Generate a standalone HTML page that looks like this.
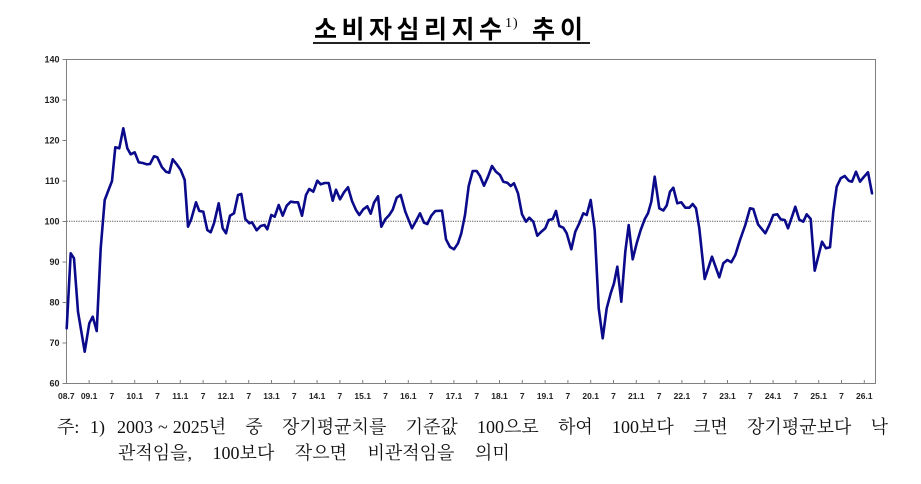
<!DOCTYPE html>
<html>
<head>
<meta charset="utf-8">
<style>
  html, body { margin:0; padding:0; background:#fff; }
  body { width:921px; height:484px; position:relative; overflow:hidden; }
  .t { position:absolute; font-family:"Liberation Sans","Noto Sans CJK KR",sans-serif; font-weight:700; color:#000; white-space:nowrap; }
  .title { left:314px; top:18px; font-size:25px; line-height:25px; letter-spacing:4.5px; }
  .sup { position:absolute; left:505px; top:17px; font-family:"Liberation Serif",serif; font-size:14px; line-height:14px; letter-spacing:1px; color:#000; }
  .title2 { left:532px; top:18px; font-size:25px; line-height:25px; letter-spacing:5px; }
  .uline { position:absolute; left:313px; top:42px; width:277px; height:2px; background:#222; }
  .note { position:absolute; font-family:"Liberation Serif","Noto Serif CJK SC","Noto Sans CJK KR",serif; font-size:18px; line-height:26px; color:#111; white-space:nowrap; }
  .n0 { left:57px; top:414px; }
  .n01 { left:90px; top:414px; }
  .n1 { left:117px; top:414px; width:771px; text-align:justify; text-align-last:justify; white-space:normal; }
  .n2 { left:118px; top:440px; word-spacing:16px; }
  .tl { margin:0 5px; }
</style>
</head>
<body>
<div class="t title">소비자심리지수</div>
<div class="sup">1)</div>
<div class="t title2">추이</div>
<div class="uline"></div>

<svg width="921" height="484" style="position:absolute;left:0;top:0" xmlns="http://www.w3.org/2000/svg">
  <g stroke="#808080" stroke-width="1" fill="none">
    <rect x="66.5" y="59.5" width="809" height="324"/>
    <line x1="62.5" y1="59.5" x2="66.5" y2="59.5"/>
    <line x1="62.5" y1="100" x2="66.5" y2="100"/>
    <line x1="62.5" y1="140.5" x2="66.5" y2="140.5"/>
    <line x1="62.5" y1="181" x2="66.5" y2="181"/>
    <line x1="62.5" y1="221.5" x2="66.5" y2="221.5"/>
    <line x1="62.5" y1="262" x2="66.5" y2="262"/>
    <line x1="62.5" y1="302.5" x2="66.5" y2="302.5"/>
    <line x1="62.5" y1="343" x2="66.5" y2="343"/>
    <line x1="62.5" y1="383.5" x2="66.5" y2="383.5"/>
  </g>
  <line x1="66.5" y1="221.3" x2="871" y2="221.3" stroke="#555" stroke-width="1" stroke-dasharray="1.2 1.2"/>
  <polyline fill="none" stroke="#0a0a8a" stroke-width="2.6" stroke-linejoin="round" stroke-linecap="round" points="
66.7,328.3 70.7,253.3 74,258.3 78,311.7 84.7,351.7 89.3,323.3 92.7,316.7 96.7,331 100.7,248.3 104.7,200 112,181 115.3,147.3 119.3,148.3 123.3,128.3 127.3,148.3 130.7,154.3 134.7,152.3 138.7,162.3 142.7,163 146.7,164.3 150,164 154,156.3 157.3,157.3 162,167.3 166,171.7 169.3,172.7 172.7,159.3 176.7,164.3 180.7,170 184.7,180 188,226.7 191.3,219 196,202.3 199.3,211 203.3,211.7 207.3,230 210.7,232.3 214,223.3 218.7,203.3 222.7,228.3 226,233.3 230,215.7 234,213.3 238,195 241.3,194 245.3,219 249.3,223.3 252,222.3 256.7,230.3 260.7,226 264.5,225 267.3,229.3 271.3,215 274.7,216.7 278.7,205 282.7,215.7 286.7,205.7 290.7,201.7 294.7,202.3 298,202.3 302,215.7 306,195 309.3,189 313.3,191.7 317.3,180.7 320.7,184.3 324.7,183 328.7,183 332.7,200.7 336,189.7 340,199.3 344,192.3 348,187.3 352,201 356,210 359.3,215 363.3,209.3 367.3,206.3 370.7,213.7 374,202.7 378,196.3 381.3,226.7 385.3,219.3 389.3,215 392.7,209.7 396.7,197.7 400.7,195 405.3,211.7 412,228.3 416,221 420,213.3 424,222.7 427.3,224 431.3,215.7 435.3,211 442,210.7 446,239.3 450,247 454,249.3 458,243.3 461.3,233.3 465,215 468.7,186 472.7,171 476.7,171 480,176 484,185.7 488,176.7 492,166 496,171.7 500,175 503.3,181.7 507.3,182.7 510.7,186 514,183.3 518,193.3 522,214.3 526,221.7 529.3,217.7 533.3,221.7 537.3,235.7 541.3,231.7 545.3,228.3 548.7,220 552.7,219 556,211 559.3,226 563.3,227.7 566.7,233.3 571.3,249.3 575.3,231.7 579.3,223.3 583.3,213.3 586.7,215 590.7,200 594.7,230 598.7,308.3 602.7,338.3 606.7,308.3 610.7,293.3 614,283.3 617.3,266.7 621.3,301.7 625.3,251.7 628.7,225 632.7,259.3 636.7,243.3 640.7,230 644.7,219.3 648,213.3 651.3,201.7 654.7,176.7 659.3,208.3 663.3,210.5 666.7,205.5 670,191.7 673.3,187.7 677.3,203.3 681.3,202.3 685.3,207.7 689.3,207.7 692.7,204 696,208.3 699.3,228.3 704.7,279 712,256.7 719.3,277.3 723.3,263.3 727.3,260 731.3,262.3 735.3,255 740,240 745.3,225 750,208.3 753.3,209 758,224.3 765.3,233.3 769.3,225 773.3,215 777.3,214.3 780.7,219.3 784.7,220 788,228.3 792,216.7 795.3,206.7 799.3,219.7 803.3,221.7 806.7,214.3 810.7,219 814.7,270.7 822,241.7 826,248.3 830,247.3 833.3,211.7 836.7,186.7 840.7,178.3 844.7,176 848.7,180.7 852,181.7 856,171.7 860,181.7 864,176.7 868,172.3 872,193.3"/>
  <g font-family="Liberation Sans, sans-serif" font-weight="700" font-size="9" fill="#222" text-anchor="end">
    <text x="59.5" y="62.5">140</text>
    <text x="59.5" y="103">130</text>
    <text x="59.5" y="143.5">120</text>
    <text x="59.5" y="184">110</text>
    <text x="59.5" y="224.5">100</text>
    <text x="59.5" y="265">90</text>
    <text x="59.5" y="305.5">80</text>
    <text x="59.5" y="346">70</text>
    <text x="59.5" y="386.5">60</text>
  </g>
  <g font-family="Liberation Sans, sans-serif" font-weight="700" font-size="8.5" fill="#222" text-anchor="middle">
    <text x="66.3" y="399">08.7</text>
    <text x="89.1" y="399">09.1</text>
    <text x="111.9" y="399">7</text>
    <text x="134.7" y="399">10.1</text>
    <text x="157.5" y="399">7</text>
    <text x="180.3" y="399">11.1</text>
    <text x="203.1" y="399">7</text>
    <text x="225.9" y="399">12.1</text>
    <text x="248.7" y="399">7</text>
    <text x="271.5" y="399">13.1</text>
    <text x="294.3" y="399">7</text>
    <text x="317.1" y="399">14.1</text>
    <text x="339.9" y="399">7</text>
    <text x="362.7" y="399">15.1</text>
    <text x="385.5" y="399">7</text>
    <text x="408.3" y="399">16.1</text>
    <text x="431.1" y="399">7</text>
    <text x="453.9" y="399">17.1</text>
    <text x="476.7" y="399">7</text>
    <text x="499.5" y="399">18.1</text>
    <text x="522.3" y="399">7</text>
    <text x="545.1" y="399">19.1</text>
    <text x="567.9" y="399">7</text>
    <text x="590.7" y="399">20.1</text>
    <text x="613.5" y="399">7</text>
    <text x="636.3" y="399">21.1</text>
    <text x="659.1" y="399">7</text>
    <text x="681.9" y="399">22.1</text>
    <text x="704.7" y="399">7</text>
    <text x="727.5" y="399">23.1</text>
    <text x="750.3" y="399">7</text>
    <text x="773.1" y="399">24.1</text>
    <text x="795.9" y="399">7</text>
    <text x="818.7" y="399">25.1</text>
    <text x="841.5" y="399">7</text>
    <text x="864.3" y="399">26.1</text>
  </g>
  <g stroke="#808080" stroke-width="1">
    <line x1="89.1" y1="380" x2="89.1" y2="383.5"/>
    <line x1="111.9" y1="380" x2="111.9" y2="383.5"/>
    <line x1="134.7" y1="380" x2="134.7" y2="383.5"/>
    <line x1="157.5" y1="380" x2="157.5" y2="383.5"/>
    <line x1="180.3" y1="380" x2="180.3" y2="383.5"/>
    <line x1="203.1" y1="380" x2="203.1" y2="383.5"/>
    <line x1="225.9" y1="380" x2="225.9" y2="383.5"/>
    <line x1="248.7" y1="380" x2="248.7" y2="383.5"/>
    <line x1="271.5" y1="380" x2="271.5" y2="383.5"/>
    <line x1="294.3" y1="380" x2="294.3" y2="383.5"/>
    <line x1="317.1" y1="380" x2="317.1" y2="383.5"/>
    <line x1="339.9" y1="380" x2="339.9" y2="383.5"/>
    <line x1="362.7" y1="380" x2="362.7" y2="383.5"/>
    <line x1="385.5" y1="380" x2="385.5" y2="383.5"/>
    <line x1="408.3" y1="380" x2="408.3" y2="383.5"/>
    <line x1="431.1" y1="380" x2="431.1" y2="383.5"/>
    <line x1="453.9" y1="380" x2="453.9" y2="383.5"/>
    <line x1="476.7" y1="380" x2="476.7" y2="383.5"/>
    <line x1="499.5" y1="380" x2="499.5" y2="383.5"/>
    <line x1="522.3" y1="380" x2="522.3" y2="383.5"/>
    <line x1="545.1" y1="380" x2="545.1" y2="383.5"/>
    <line x1="567.9" y1="380" x2="567.9" y2="383.5"/>
    <line x1="590.7" y1="380" x2="590.7" y2="383.5"/>
    <line x1="613.5" y1="380" x2="613.5" y2="383.5"/>
    <line x1="636.3" y1="380" x2="636.3" y2="383.5"/>
    <line x1="659.1" y1="380" x2="659.1" y2="383.5"/>
    <line x1="681.9" y1="380" x2="681.9" y2="383.5"/>
    <line x1="704.7" y1="380" x2="704.7" y2="383.5"/>
    <line x1="727.5" y1="380" x2="727.5" y2="383.5"/>
    <line x1="750.3" y1="380" x2="750.3" y2="383.5"/>
    <line x1="773.1" y1="380" x2="773.1" y2="383.5"/>
    <line x1="795.9" y1="380" x2="795.9" y2="383.5"/>
    <line x1="818.7" y1="380" x2="818.7" y2="383.5"/>
    <line x1="841.5" y1="380" x2="841.5" y2="383.5"/>
    <line x1="864.3" y1="380" x2="864.3" y2="383.5"/>
  </g>
</svg>

<div class="note n0">주:</div>
<div class="note n01">1)</div>
<div class="note n1">2003<span class="tl">~</span>2025년 중 장기평균치를 기준값 100으로 하여 100보다 크면 장기평균보다 낙</div>
<div class="note n2">관적임을, 100보다 작으면 비관적임을 의미</div>
</body>
</html>
